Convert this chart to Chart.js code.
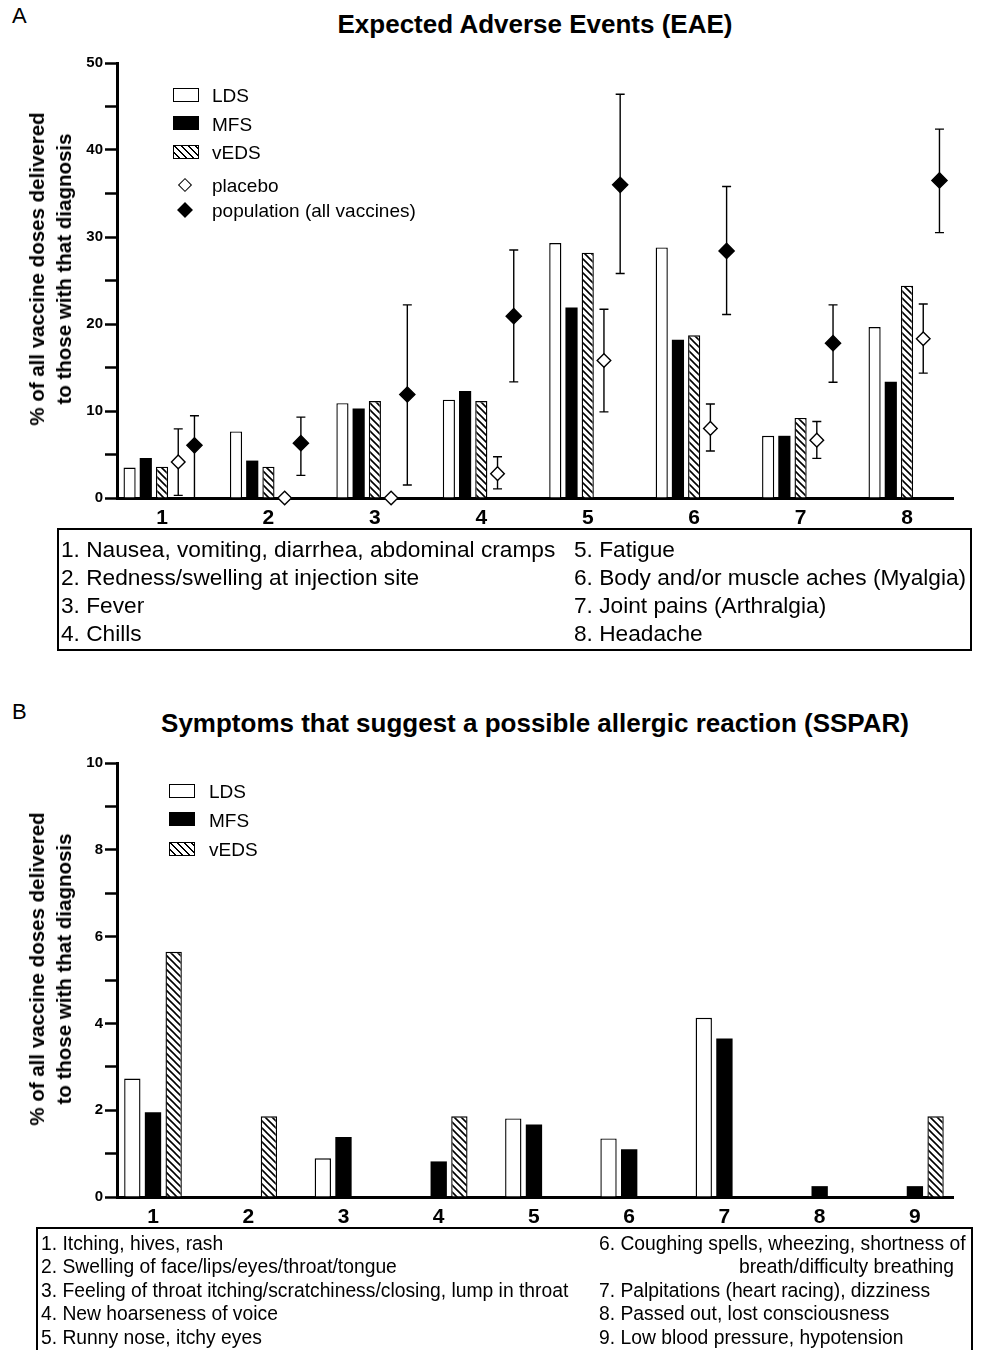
<!DOCTYPE html>
<html>
<head>
<meta charset="utf-8">
<script src="https://cdn.jsdelivr.net/npm/chart.js@4"></script>
<style>
  body { margin: 0; background: #fff; }
  #page { position: relative; width: 982px; height: 1350px; overflow: hidden; background: #fff;
          font-family: "Liberation Sans", Arial, Helvetica, sans-serif; color: #000; }
  canvas { position: absolute; left: 0; }
  .t { position: absolute; white-space: nowrap; line-height: 1; transform: translateY(-50%); }
  .title { position: absolute; font-weight: bold; font-size: 26px; white-space: nowrap; line-height: 1;
           transform: translate(-50%, -50%); }
  .ytitle { position: absolute; font-weight: bold; font-size: 20.5px; line-height: 27px; text-align: center;
            white-space: nowrap; transform: translate(-50%, -50%) rotate(-90deg); }
  .box { position: absolute; border: 2px solid #000; box-sizing: border-box; }
  .sw { position: absolute; width: 26px; height: 14px; box-sizing: border-box; border: 1.5px solid #000; background: #fff; }
  .sw.black { background: #000; }
  .sw.hatch { background: repeating-linear-gradient(45deg, #fff 0 3px, #000 3px 4.6px, #fff 4.6px 5px); }
  .dia { position: absolute; width: 10px; height: 10px; box-sizing: border-box; border: 1.3px solid #000;
         background: #fff; transform: translate(-50%, -50%) rotate(45deg); }
  .dia.black { background: #000; width: 11px; height: 11px; }
</style>
</head>
<body>
<div id="page">
  <canvas id="chartA" width="982" height="490" style="top:40px"></canvas>
  <canvas id="chartB" width="982" height="489" style="top:740px"></canvas>
</div>
<script>
// ---- panel A: expected adverse events ----
const catsA = ['1', '2', '3', '4', '5', '6', '7', '8'];
const ldsA  = [3.5, 7.65, 10.9, 11.3, 29.3, 28.8, 7.15, 19.65];
const mfsA  = [4.6, 4.3, 10.3, 12.3, 21.9, 18.2, 7.15, 13.35];
const vedsA = [3.6, 3.6, 11.15, 11.15, 28.2, 18.7, 9.2, 24.4];
const placebo   = [4.15, 0, 0, 2.8, 15.8, 8.0, 6.65, 18.3];
const placeboLo = [0.3, null, null, 1.05, 9.9, 5.4, 4.55, 14.35];
const placeboHi = [7.95, null, null, 4.75, 21.7, 10.8, 8.8, 22.3];
const population   = [6.05, 6.3, 11.9, 20.9, 36.0, 28.4, 17.8, 36.5];
const populationLo = [0, 2.6, 1.5, 13.35, 25.8, 21.1, 13.3, 30.5];
const populationHi = [9.45, 9.3, 22.2, 28.5, 46.4, 35.8, 22.2, 42.4];
const ticksA = [0, 10, 20, 30, 40, 50];

// ---- panel B: possible allergic reaction ----
const catsB = ['1', '2', '3', '4', '5', '6', '7', '8', '9'];
const ldsB  = [2.73, null, 0.89, null, 1.81, 1.35, 4.13, null, null];
const mfsB  = [1.95, null, 1.38, 0.82, 1.67, 1.1, 3.65, 0.25, 0.25];
const vedsB = [5.65, 1.86, null, 1.86, null, null, null, null, 1.86];
const ticksB = [0, 2, 4, 6, 8, 10];

const notesA = [
  ['1. Nausea, vomiting, diarrhea, abdominal cramps', '5. Fatigue'],
  ['2. Redness/swelling at injection site', '6. Body and/or muscle aches (Myalgia)'],
  ['3. Fever', '7. Joint pains (Arthralgia)'],
  ['4. Chills', '8. Headache']
];
const notesBLeft = ['1. Itching, hives, rash', '2. Swelling of face/lips/eyes/throat/tongue',
  '3. Feeling of throat itching/scratchiness/closing, lump in throat', '4. New hoarseness of voice',
  '5. Runny nose, itchy eyes'];
const notesBRight = ['6. Coughing spells, wheezing, shortness of', 'breath/difficulty breathing',
  '7. Palpitations (heart racing), dizziness', '8. Passed out, lost consciousness',
  '9. Low blood pressure, hypotension'];

const FONT = '"Liberation Sans", Arial, Helvetica, sans-serif';
const page = document.getElementById('page');

function addText(cls, text, x, y, css) {
  const d = document.createElement('div');
  d.className = cls;
  d.textContent = text;
  d.style.left = x + 'px';
  d.style.top = y + 'px';
  if (css) Object.assign(d.style, css);
  page.appendChild(d);
  return d;
}
function addEl(cls, x, y, w, h) {
  const d = document.createElement('div');
  d.className = cls;
  d.style.left = x + 'px';
  d.style.top = y + 'px';
  if (w) d.style.width = w + 'px';
  if (h) d.style.height = h + 'px';
  page.appendChild(d);
  return d;
}

// hatch pattern for vEDS bars
function hatch() {
  const c = document.createElement('canvas');
  c.width = 7; c.height = 7;
  const g = c.getContext('2d');
  g.fillStyle = '#fff'; g.fillRect(0, 0, 7, 7);
  g.strokeStyle = '#000'; g.lineWidth = 1.6;
  g.beginPath();
  g.moveTo(-1, -1); g.lineTo(8, 8);
  g.moveTo(-1, 6); g.lineTo(1, 8);
  g.moveTo(6, -1); g.lineTo(8, 1);
  g.stroke();
  return g.createPattern(c, 'repeat');
}
const hatchFill = hatch();

const pts = arr => arr.map((v, i) => ({ x: i + 1, y: v }));

// diamonds + error bars drawn at the slot of their (invisible) bar
const markerPlugin = {
  id: 'markers',
  afterDatasetsDraw(chart) {
    const ctx = chart.ctx;
    const ys = chart.scales.y;
    chart.data.datasets.forEach((ds, di) => {
      if (!ds.marker) return;
      const meta = chart.getDatasetMeta(di);
      meta.data.forEach((bar, i) => {
        const v = ds.data[i].y;
        if (v == null) return;
        const cx = bar.x;
        const cy = ys.getPixelForValue(v);
        ctx.save();
        ctx.strokeStyle = '#000';
        ctx.lineWidth = 1.4;
        if (ds.lo[i] != null) {
          const top = ys.getPixelForValue(ds.hi[i]);
          const bot = ys.getPixelForValue(ds.lo[i]);
          ctx.beginPath();
          ctx.moveTo(cx, top); ctx.lineTo(cx, bot);
          ctx.moveTo(cx - 4.5, top); ctx.lineTo(cx + 4.5, top);
          ctx.moveTo(cx - 4.5, bot); ctx.lineTo(cx + 4.5, bot);
          ctx.stroke();
        }
        const r = ds.marker === 'open' ? 6.8 : 7.6;
        ctx.beginPath();
        ctx.moveTo(cx, cy - r); ctx.lineTo(cx + r, cy);
        ctx.lineTo(cx, cy + r); ctx.lineTo(cx - r, cy);
        ctx.closePath();
        ctx.fillStyle = ds.marker === 'open' ? '#fff' : '#000';
        ctx.fill();
        ctx.stroke();
        ctx.restore();
      });
    });
  }
};

function barSet(label, values, kind) {
  const ds = { label: label, data: pts(values), borderColor: '#000', borderWidth: 1.4 };
  if (kind === 'open') ds.backgroundColor = '#fff';
  if (kind === 'black') { ds.backgroundColor = '#000'; ds.borderWidth = 0; }
  if (kind === 'hatch') ds.backgroundColor = hatchFill;
  return ds;
}
function markerSet(label, values, lo, hi, kind) {
  return { label: label, data: pts(values), lo: lo, hi: hi, marker: kind,
           backgroundColor: 'rgba(0,0,0,0)', borderWidth: 0 };
}

function makeChart(id, cats, datasets, xmin, xmax, ymax, ystep, ylabels, catPct, barPct, padTop) {
  return new Chart(document.getElementById(id), {
    type: 'bar',
    data: { datasets: datasets },
    options: {
      responsive: false,
      animation: false,
      events: [],
      categoryPercentage: catPct,
      barPercentage: barPct,
      layout: { padding: { left: 0, right: 29, top: padTop, bottom: 0 } },
      plugins: { legend: { display: false }, tooltip: { enabled: false } },
      scales: {
        x: {
          type: 'linear', min: xmin, max: xmax, offset: false,
          grid: { display: false },
          border: { display: true, color: '#000', width: 3 },
          ticks: {
            stepSize: 1, includeBounds: false, autoSkip: false, maxRotation: 0, padding: 0,
            color: '#000', font: { family: FONT, size: 21, weight: 'bold' },
            callback: v => cats[v - 1] ?? ''
          },
          afterFit: s => { s.height = 32; }
        },
        y: {
          min: 0, max: ymax,
          grid: { drawOnChartArea: false, drawTicks: true, tickLength: 12, tickWidth: 2.5, tickColor: '#000' },
          border: { display: true, color: '#000', width: 3 },
          ticks: {
            stepSize: ystep, padding: 2, color: '#000',
            font: { family: FONT, size: 15, weight: 'bold' },
            callback: v => ylabels.includes(v) ? String(v) : ''
          },
          afterFit: s => { s.width = 117; }
        }
      }
    },
    plugins: [markerPlugin]
  });
}

makeChart('chartA', catsA, [
  barSet('LDS', ldsA, 'open'),
  barSet('MFS', mfsA, 'black'),
  barSet('vEDS', vedsA, 'hatch'),
  markerSet('placebo', placebo, placeboLo, placeboHi, 'open'),
  markerSet('population (all vaccines)', population, populationLo, populationHi, 'filled')
], 0.577, 8.432, 50, 5, ticksA, 0.762, 0.75, 23);

makeChart('chartB', catsB, [
  barSet('LDS', ldsB, 'open'),
  barSet('MFS', mfsB, 'black'),
  barSet('vEDS', vedsB, 'hatch')
], 0.622, 9.40, 10, 1, ticksB, 0.651, 0.79, 23);

// ---- text, legends, footnote boxes ----
addText('t', 'A', 12, 16, { fontSize: '22px' });
addText('t', 'B', 12, 712, { fontSize: '22px' });
addText('title', 'Expected Adverse Events (EAE)', 535, 24);
addText('title', 'Symptoms that suggest a possible allergic reaction (SSPAR)', 535, 723);

addText('ytitle', '', 49.5, 269).innerHTML = '% of all vaccine doses delivered<br>to those with that diagnosis';
addText('ytitle', '', 49.5, 969).innerHTML = '% of all vaccine doses delivered<br>to those with that diagnosis';

// legend A
addEl('sw', 173, 88);
addEl('sw black', 173, 116);
addEl('sw hatch', 173, 145);
addEl('dia', 185, 185);
addEl('dia black', 185, 210);
[['LDS', 95], ['MFS', 123.5], ['vEDS', 152], ['placebo', 185], ['population (all vaccines)', 210]]
  .forEach(([s, y]) => addText('t', s, 212, y, { fontSize: '19px' }));

// legend B
addEl('sw', 169, 784);
addEl('sw black', 169, 812);
addEl('sw hatch', 169, 842);
[['LDS', 791], ['MFS', 819.5], ['vEDS', 849]]
  .forEach(([s, y]) => addText('t', s, 209, y, { fontSize: '19px' }));

// footnotes A
addEl('box', 57, 528, 915, 123);
notesA.forEach((row, i) => {
  const y = 549 + i * 28.1;
  addText('t', row[0], 61, y, { fontSize: '22.7px' });
  addText('t', row[1], 574, y, { fontSize: '22.7px' });
});

// footnotes B
addEl('box', 36, 1227, 937, 140);
notesBLeft.forEach((s, i) => addText('t', s, 41, 1243.5 + i * 23.6, { fontSize: '19.3px' }));
notesBRight.forEach((s, i) => {
  const y = 1243.5 + i * 23.6;
  if (i === 1) addText('t', s, 954, y, { fontSize: '19.3px', transform: 'translate(-100%, -50%)' });
  else addText('t', s, 599, y, { fontSize: '19.3px' });
});
</script>
</body>
</html>
